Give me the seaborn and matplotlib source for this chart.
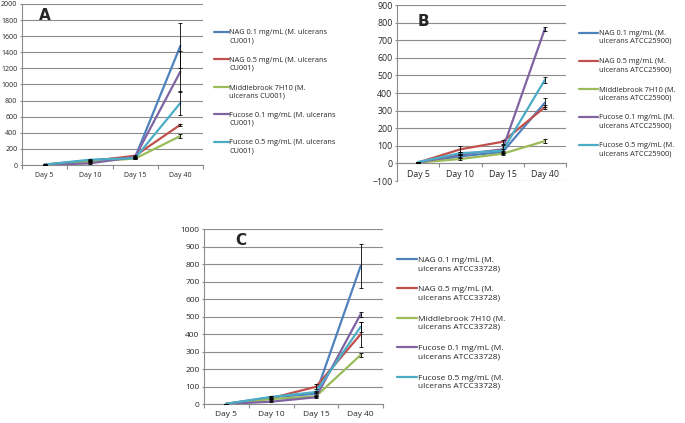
import pandas as pd
import matplotlib.pyplot as plt
import matplotlib.ticker as mticker
from matplotlib.legend_handler import HandlerLine2D
import seaborn as sns

# categories
days = ['Day 5', 'Day 10', 'Day 15', 'Day 40']
colors = ['#4F81BD', '#C0504D', '#9BBB59', '#8064A2', '#4BACC6']

# panel A (M. ulcerans CU001)
labels_a = ['NAG 0.1 mg/mL (M. ulcerans\nCU001)', 'NAG 0.5 mg/mL (M. ulcerans\nCU001)',
            'Middlebrook 7H10 (M.\nulcerans CU001)', 'Fucose 0.1 mg/mL (M. ulcerans\nCU001)',
            'Fucose 0.5 mg/mL (M. ulcerans\nCU001)']
nag01_a = [5, 58, 95, 1480]
nag05_a = [4, 48, 115, 500]
mb_a = [3, 42, 80, 360]
fuc01_a = [2, 20, 100, 1160]
fuc05_a = [5, 65, 85, 770]
err_a = [[2, 8, 10, 280], [2, 5, 10, 15], [1, 5, 10, 20], [1, 4, 10, 250], [2, 5, 10, 155]]

# panel B (M. ulcerans ATCC25900)
labels_b = ['NAG 0.1 mg/mL (M.\nulcerans ATCC25900)', 'NAG 0.5 mg/mL (M.\nulcerans ATCC25900)',
            'Middlebrook 7H10 (M.\nulcerans ATCC25900)', 'Fucose 0.1 mg/mL (M.\nulcerans ATCC25900)',
            'Fucose 0.5 mg/mL (M.\nulcerans ATCC25900)']
nag01_b = [5, 40, 65, 345]
nag05_b = [5, 80, 123, 320]
mb_b = [5, 25, 55, 127]
fuc01_b = [5, 50, 80, 765]
fuc05_b = [8, 58, 72, 475]
err_b = [[1, 5, 8, 25], [1, 17, 10, 10], [1, 3, 5, 10], [1, 5, 25, 12], [1, 5, 8, 18]]

# panel C (M. ulcerans ATCC33728)
labels_c = ['NAG 0.1 mg/mL (M.\nulcerans ATCC33728)', 'NAG 0.5 mg/mL (M.\nulcerans ATCC33728)',
            'Middlebrook 7H10 (M.\nulcerans ATCC33728)', 'Fucose 0.1 mg/mL (M.\nulcerans ATCC33728)',
            'Fucose 0.5 mg/mL (M.\nulcerans ATCC33728)']
nag01_c = [3, 40, 60, 790]
nag05_c = [3, 35, 100, 400]
mb_c = [2, 30, 45, 282]
fuc01_c = [2, 15, 40, 515]
fuc05_c = [3, 42, 70, 443]
err_c = [[1, 5, 8, 125], [1, 5, 15, 72], [1, 3, 5, 12], [1, 4, 5, 15], [1, 4, 8, 30]]

sns.set_style('white')
plt.rcParams['font.family'] = ['Open Sans', 'DejaVu Sans']

fig = plt.figure(figsize=(6.85, 4.23), dpi=100)
grid_col = '#8c8c8c'


class TopLine(HandlerLine2D):
    # put the legend line next to the first text line, like Excel does
    def create_artists(self, legend, orig_handle, xdescent, ydescent, width, height, fontsize, trans):
        arts = super().create_artists(legend, orig_handle, xdescent, ydescent, width, height, fontsize, trans)
        for a in arts:
            a.set_ydata([y + 0.62 * fontsize for y in a.get_ydata()])
        return arts


def panel(rect, series, labels, errs, ylim, ystep, letter, letter_xy, leg_xy,
          handlelen, tick_fs, leg_fs, leg_space):
    ax = fig.add_axes(rect)
    rows = []
    for lab, vals in zip(labels, series):
        for d, v in zip(days, vals):
            rows.append({'day': d, 'value': v, 'series': lab})
    df = pd.DataFrame(rows)
    sns.lineplot(data=df, x='day', y='value', hue='series', palette=colors,
                 sort=False, linewidth=1.6, ax=ax)
    for vals, e in zip(series, errs):
        ax.errorbar(range(len(days)), vals, yerr=e, fmt='none', ecolor='black',
                    elinewidth=0.6, capsize=1.5, capthick=0.6, zorder=5)
    ax.set_xlim(-0.5, len(days) - 0.5)
    ax.set_ylim(*ylim)
    ax.yaxis.set_major_locator(mticker.MultipleLocator(ystep))
    ax.grid(axis='y', color=grid_col, linewidth=0.8)
    ax.set_axisbelow(True)
    for s in ['top', 'right']:
        ax.spines[s].set_visible(False)
    for s in ['left', 'bottom']:
        ax.spines[s].set_color(grid_col)
        ax.spines[s].set_linewidth(0.8)
    if ylim[0] < 0:
        ax.spines['bottom'].set_position(('data', 0))
    ax.set_xticks(range(len(days)))
    ax.set_xticklabels(days)
    ax.set_xticks([i - 0.5 for i in range(len(days) + 1)], minor=True)
    ax.tick_params(axis='x', which='major', length=0, labelsize=tick_fs, pad=5)
    ax.tick_params(axis='x', which='minor', length=3, color=grid_col, width=0.8, direction='out', bottom=True)
    ax.tick_params(axis='y', length=1.8, color=grid_col, width=0.8, direction='out', left=True,
                   labelsize=tick_fs, pad=1.5)
    ax.set_xlabel('')
    ax.set_ylabel('')
    ax.text(letter_xy[0], letter_xy[1], letter, transform=fig.transFigure,
            fontsize=11, fontweight='bold', family='DejaVu Sans', ha='center', va='center')
    handles, labs = ax.get_legend_handles_labels()
    ax.legend(handles, labs, loc='upper left', bbox_to_anchor=leg_xy,
              bbox_transform=fig.transFigure, frameon=False, fontsize=leg_fs,
              handlelength=handlelen, handletextpad=0.1, labelspacing=leg_space,
              borderaxespad=0, borderpad=0, handler_map={type(handles[0]): TopLine()})
    return ax


panel([22 / 685, 1 - 165 / 423, 181 / 685, 161 / 423],
      [nag01_a, nag05_a, mb_a, fuc01_a, fuc05_a], labels_a, err_a,
      (0, 2000), 200, 'A', (45 / 685, 1 - 16 / 423), (214 / 685, 1 - 29 / 423),
      2.0, 5.0, 5.3, 1.7)
panel([397 / 685, 1 - 181 / 423, 169 / 685, 176 / 423],
      [nag01_b, nag05_b, mb_b, fuc01_b, fuc05_b], labels_b, err_b,
      (-100, 900), 100, 'B', (423 / 685, 1 - 21 / 423), (579 / 685, 1 - 30 / 423),
      2.6, 6.3, 5.3, 1.78)
panel([204 / 685, 1 - 404.3 / 423, 179 / 685, 175 / 423],
      [nag01_c, nag05_c, mb_c, fuc01_c, fuc05_c], labels_c, err_c,
      (0, 1000), 100, 'C', (241 / 685, 1 - 240 / 423), (397 / 685, 1 - 257 / 423),
      2.4, 6.0, 6.0, 1.73)

plt.savefig('out.png', dpi=100)
